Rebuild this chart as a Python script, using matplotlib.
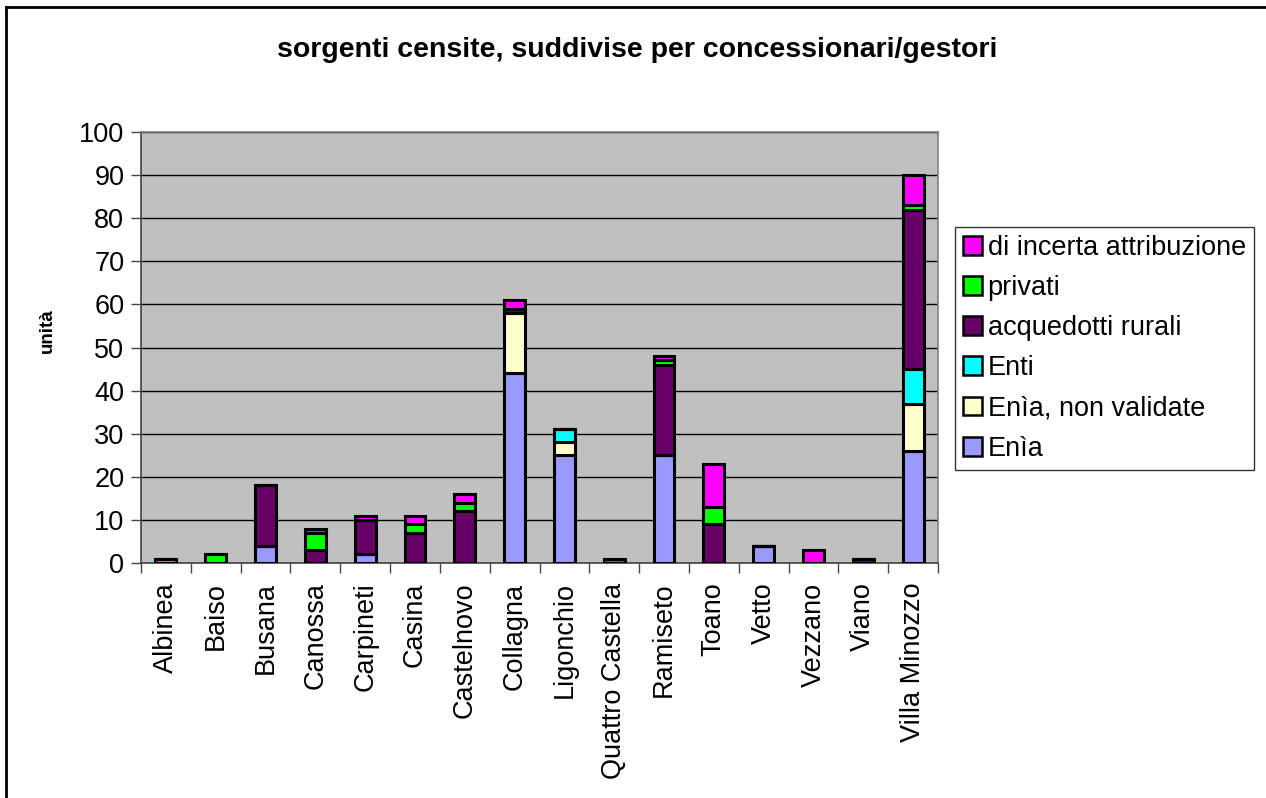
import matplotlib
matplotlib.use("Agg")
import matplotlib.pyplot as plt
import numpy as np
from matplotlib.lines import Line2D
from matplotlib.patches import Patch

plt.rcParams["font.family"] = ["Liberation Sans", "DejaVu Sans"]

comuni = [
    "Albinea", "Baiso", "Busana", "Canossa", "Carpineti", "Casina",
    "Castelnovo", "Collagna", "Ligonchio", "Quattro Castella", "Ramiseto",
    "Toano", "Vetto", "Vezzano", "Viano", "Villa Minozzo",
]

enia = [0, 0, 4, 0, 2, 0, 0, 44, 25, 0, 25, 0, 4, 0, 0, 26]
enia_non_validate = [0, 0, 0, 0, 0, 0, 0, 14, 3, 0, 0, 0, 0, 0, 0, 11]
enti = [0, 0, 0, 0, 0, 0, 0, 0, 3, 0, 0, 0, 0, 0, 0, 8]
acquedotti_rurali = [0, 0, 14, 3, 8, 7, 12, 1, 0, 0, 21, 9, 0, 0, 1, 37]
privati = [1, 2, 0, 4, 0, 2, 2, 0, 0, 0, 1, 4, 0, 0, 0, 1]
incerta = [0, 0, 0, 1, 1, 2, 2, 2, 0, 1, 1, 10, 0, 3, 0, 7]

series = [
    ("Enìa", enia, "#9999FF"),
    ("Enìa, non validate", enia_non_validate, "#FFFFCC"),
    ("Enti", enti, "#00FFFF"),
    ("acquedotti rurali", acquedotti_rurali, "#660066"),
    ("privati", privati, "#00FF00"),
    ("di incerta attribuzione", incerta, "#FF00FF"),
]

W, H = 1266, 798
fig = plt.figure(figsize=(W / 100, H / 100), dpi=100)
ax = fig.add_axes([141 / W, 1 - 563 / H, (938 - 141) / W, (563 - 132) / H])
ax.set_facecolor("#C0C0C0")

x = np.arange(len(comuni))
bottom = np.zeros(len(comuni))
handles = []
for label, values, color in series:
    vals = np.array(values, dtype=float)
    ax.bar(x, vals, bottom=bottom, width=0.42, color=color,
           edgecolor="black", linewidth=2.2, zorder=3)
    bottom += vals
    handles.append(Patch(facecolor=color, edgecolor="black", linewidth=1.8, label=label))

ax.set_xlim(-0.5, len(comuni) - 0.5)
ax.set_ylim(0, 100)
ax.set_yticks(range(0, 101, 10))
ax.yaxis.grid(True, color="black", linewidth=1.0, zorder=1)
ax.set_axisbelow(True)

ax.set_xticks(x)
ax.set_xticklabels(comuni, rotation=90, fontsize=19.5)
ax.tick_params(axis="x", which="major", length=0, pad=14)
ax.set_xticks(np.arange(-0.5, len(comuni)), minor=True)
ax.tick_params(axis="x", which="minor", length=7, color="#444444", width=1)
ax.tick_params(axis="y", labelsize=19.5, length=7, color="#444444", width=1, pad=5)

for side in ("top", "right"):
    ax.spines[side].set_color("#808080")
    ax.spines[side].set_linewidth(1.2)
for side in ("left", "bottom"):
    ax.spines[side].set_color("#444444")
    ax.spines[side].set_linewidth(1.2)

fig.text(47 / W, 1 - 331 / H, "unità", rotation=90, ha="center", va="center",
         fontsize=13.5, fontweight="bold")

fig.text(637 / W, 1 - 50 / H, "sorgenti censite, suddivise per concessionari/gestori",
         ha="center", va="center", fontsize=20.5, fontweight="bold")

leg = fig.legend(handles=handles[::-1], loc="upper left",
                 bbox_to_anchor=(955 / W, 1 - 227 / H),
                 fontsize=19.5, frameon=True, fancybox=False,
                 handlelength=0.7, handleheight=0.7, handletextpad=0.2,
                 labelspacing=0.52, borderpad=0.3, borderaxespad=0)
leg.get_frame().set_edgecolor("black")
leg.get_frame().set_linewidth(1.0)

# outer chart border (only top and left edges visible)
fig.add_artist(Line2D([6 / W, 6 / W], [0, 1 - 7 / H], transform=fig.transFigure,
                      color="black", linewidth=2))
fig.add_artist(Line2D([6 / W, 1], [1 - 7 / H, 1 - 7 / H], transform=fig.transFigure,
                      color="black", linewidth=2))

fig.savefig("out.png", dpi=100, facecolor="white")
